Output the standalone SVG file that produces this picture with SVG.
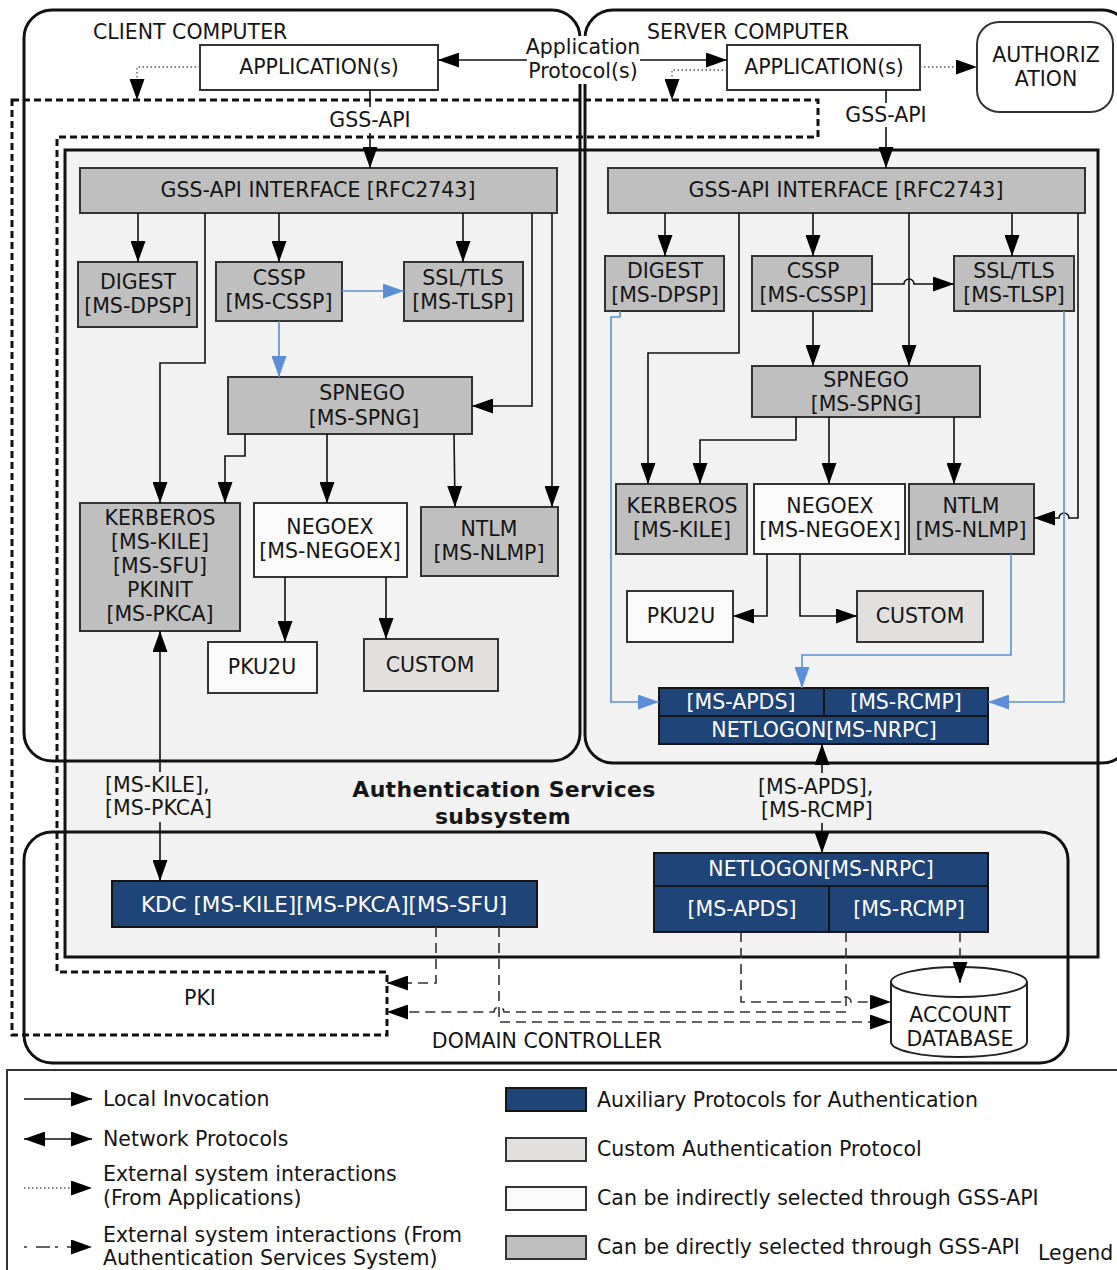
<svg xmlns="http://www.w3.org/2000/svg" width="1117" height="1270" viewBox="0 0 1117 1270">
<style>
text{font-family:"DejaVu Sans",Verdana,sans-serif;font-size:20.5px;fill:#151515;dominant-baseline:central}
.c{text-anchor:middle}
.w{fill:#fff}
.b{font-weight:bold;font-size:22px;letter-spacing:0.3px}
.frame{fill:none;stroke:#111;stroke-width:3}
.g{fill:#bfbfbf;stroke:#333;stroke-width:2}
.wh{fill:#fff;stroke:#333;stroke-width:2}
.ind{fill:#fafafa;stroke:#333;stroke-width:2}
.cu{fill:#e2dfdf;stroke:#333;stroke-width:2}
.nv{fill:#1f4478;stroke:#151515;stroke-width:2}
.ln{fill:none;stroke:#111;stroke-width:1.6}
.bl{fill:none;stroke:#5a8fd8;stroke-width:1.6}
.ds{fill:none;stroke:#333;stroke-width:1.6;stroke-dasharray:10,6}
.dt{fill:none;stroke:#555;stroke-width:1.3;stroke-dasharray:1.5,2.5}
.pki{fill:none;stroke:#111;stroke-width:3;stroke-dasharray:7,4}
</style>
<defs>
<marker id="a" markerWidth="21" markerHeight="15" refX="21" refY="7.5" orient="auto-start-reverse" markerUnits="userSpaceOnUse"><path d="M0,0 L21,7.5 L0,15 z" fill="#000"/></marker>
<marker id="ab" markerWidth="21" markerHeight="15" refX="21" refY="7.5" orient="auto-start-reverse" markerUnits="userSpaceOnUse"><path d="M0,0 L21,7.5 L0,15 z" fill="#5a8fd8"/></marker>
</defs>
<rect width="1117" height="1270" fill="#fff"/>

<g id="auth-subsystem">
<rect x="65" y="150" width="1033" height="807" fill="#f2f2f2" stroke="#111" stroke-width="3"/>
<text class="c b" x="504" y="789">Authentication Services</text>
<text class="c b" x="503" y="816">subsystem</text>
</g>
<g id="client-computer">
<rect class="frame" x="24" y="10" width="556" height="751" rx="28"/>
<text x="93" y="32">CLIENT COMPUTER</text>
</g>
<g id="server-computer">
<rect class="frame" x="585" y="10" width="545" height="753" rx="28"/>
<text x="647" y="32">SERVER COMPUTER</text>
</g>
<g id="domain-controller">
<rect class="frame" x="24" y="832" width="1044" height="231" rx="28"/>
<text class="c" x="547" y="1041">DOMAIN CONTROLLER</text>
</g>
<g id="pki">
<path class="pki" d="M12,100 H818 V137 H57 V972 H387 V1035 H12 Z"/>
<text class="c" x="200" y="998">PKI</text>
</g>

<g id="client-app"><rect class="wh" x="200" y="45" width="238" height="45"/><text class="c" x="319" y="67">APPLICATION(s)</text></g>
<g id="gss-client"><rect class="g" x="80" y="168" width="477" height="45"/><text class="c" x="318" y="190">GSS-API INTERFACE [RFC2743]</text></g>
<g id="digest-client"><rect class="g" x="78" y="262" width="119" height="65"/><text class="c" x="138" y="282">DIGEST</text><text class="c" x="138" y="306">[MS-DPSP]</text></g>
<g id="cssp-client"><rect class="g" x="216" y="262" width="126" height="59"/><text class="c" x="279" y="278">CSSP</text><text class="c" x="279" y="302">[MS-CSSP]</text></g>
<g id="ssl-client"><rect class="g" x="404" y="262" width="119" height="59"/><text class="c" x="463" y="278">SSL/TLS</text><text class="c" x="463" y="302">[MS-TLSP]</text></g>
<g id="spnego-client"><rect class="g" x="228" y="377" width="244" height="57"/><text class="c" x="362" y="393">SPNEGO</text><text class="c" x="364" y="418">[MS-SPNG]</text></g>
<g id="kerberos-client"><rect class="g" x="80" y="503" width="160" height="128"/>
<text class="c" x="160" y="518">KERBEROS</text><text class="c" x="160" y="542">[MS-KILE]</text><text class="c" x="160" y="566">[MS-SFU]</text><text class="c" x="160" y="590">PKINIT</text><text class="c" x="160" y="614">[MS-PKCA]</text></g>
<g id="negoex-client"><rect class="ind" x="254" y="503" width="153" height="74"/><text class="c" x="330" y="527">NEGOEX</text><text class="c" x="330" y="551">[MS-NEGOEX]</text></g>
<g id="ntlm-client"><rect class="g" x="421" y="507" width="137" height="69"/><text class="c" x="489" y="529">NTLM</text><text class="c" x="489" y="553">[MS-NLMP]</text></g>
<g id="pku2u-client"><rect class="ind" x="208" y="642" width="109" height="51"/><text class="c" x="262" y="667">PKU2U</text></g>
<g id="custom-client"><rect class="cu" x="364" y="639" width="134" height="52"/><text class="c" x="430" y="665">CUSTOM</text></g>

<g id="server-app"><rect class="wh" x="727" y="45" width="193" height="45"/><text class="c" x="824" y="67">APPLICATION(s)</text></g>
<g id="authorization"><rect class="wh" x="977" y="22" width="136" height="90" rx="22"/><text class="c" x="1046" y="55">AUTHORIZ</text><text class="c" x="1046" y="79">ATION</text></g>
<g id="gss-server"><rect class="g" x="608" y="168" width="477" height="45"/><text class="c" x="846" y="190">GSS-API INTERFACE [RFC2743]</text></g>
<g id="digest-server"><rect class="g" x="605" y="256" width="119" height="55"/><text class="c" x="665" y="271">DIGEST</text><text class="c" x="665" y="295">[MS-DPSP]</text></g>
<g id="cssp-server"><rect class="g" x="752" y="256" width="120" height="55"/><text class="c" x="813" y="271">CSSP</text><text class="c" x="813" y="295">[MS-CSSP]</text></g>
<g id="ssl-server"><rect class="g" x="954" y="256" width="120" height="55"/><text class="c" x="1014" y="271">SSL/TLS</text><text class="c" x="1014" y="295">[MS-TLSP]</text></g>
<g id="spnego-server"><rect class="g" x="752" y="366" width="228" height="51"/><text class="c" x="866" y="380">SPNEGO</text><text class="c" x="866" y="404">[MS-SPNG]</text></g>
<g id="kerberos-server"><rect class="g" x="616" y="484" width="131" height="70"/><text class="c" x="682" y="506">KERBEROS</text><text class="c" x="682" y="530">[MS-KILE]</text></g>
<g id="negoex-server"><rect class="ind" x="754" y="484" width="151" height="70"/><text class="c" x="830" y="506">NEGOEX</text><text class="c" x="830" y="530">[MS-NEGOEX]</text></g>
<g id="ntlm-server"><rect class="g" x="909" y="484" width="125" height="70"/><text class="c" x="971" y="506">NTLM</text><text class="c" x="971" y="530">[MS-NLMP]</text></g>
<g id="pku2u-server"><rect class="ind" x="627" y="591" width="106" height="51"/><text class="c" x="681" y="616">PKU2U</text></g>
<g id="custom-server"><rect class="cu" x="857" y="591" width="126" height="51"/><text class="c" x="920" y="616">CUSTOM</text></g>
<g id="aux-server">
<rect class="nv" x="659" y="688" width="165" height="28"/><rect class="nv" x="824" y="688" width="164" height="28"/><rect class="nv" x="659" y="716" width="329" height="28"/>
<text class="c w" x="741" y="702">[MS-APDS]</text><text class="c w" x="906" y="702">[MS-RCMP]</text><text class="c w" x="824" y="730">NETLOGON[MS-NRPC]</text>
</g>

<g id="kdc"><rect class="nv" x="112" y="881" width="425" height="46"/><text class="c w" x="324" y="904" style="font-size:21.5px">KDC [MS-KILE][MS-PKCA][MS-SFU]</text></g>
<g id="aux-dc">
<rect class="nv" x="654" y="853" width="334" height="33"/><rect class="nv" x="654" y="886" width="175" height="46"/><rect class="nv" x="829" y="886" width="159" height="46"/>
<text class="c w" x="821" y="869">NETLOGON[MS-NRPC]</text><text class="c w" x="742" y="909">[MS-APDS]</text><text class="c w" x="909" y="909">[MS-RCMP]</text>
</g>
<g id="account-database">
<path d="M891,982 V1042 A68,15 0 0 0 1027,1042 V982" fill="#fff" stroke="#222" stroke-width="2"/>
<ellipse cx="959" cy="982" rx="68" ry="15" fill="#fff" stroke="#222" stroke-width="2"/>
<text class="c" x="960" y="1015">ACCOUNT</text><text class="c" x="960" y="1039">DATABASE</text>
</g>

<g id="connectors">
<rect x="526" y="36" width="114" height="48" fill="#fff"/>
<text class="c" x="583" y="47">Application</text>
<text class="c" x="583" y="71">Protocol(s)</text>
<path class="ln" d="M527,60 H438" marker-end="url(#a)"/>
<path class="ln" d="M640,60 H727" marker-end="url(#a)"/>
<path class="dt" d="M200,67 H137 V100" marker-end="url(#a)"/>
<path class="dt" d="M727,70 H672 V100" marker-end="url(#a)"/>
<path class="dt" d="M920,67 H977" marker-end="url(#a)"/>
<path class="ln" d="M370,90 V107"/>
<path class="ln" d="M370,133 V168" marker-end="url(#a)"/>
<text class="c" x="370" y="120">GSS-API</text>
<path class="ln" d="M886,90 V103"/>
<path class="ln" d="M886,127 V168" marker-end="url(#a)"/>
<text class="c" x="886" y="115">GSS-API</text>

<path class="ln" d="M138,213 V262" marker-end="url(#a)"/>
<path class="ln" d="M279,213 V262" marker-end="url(#a)"/>
<path class="ln" d="M463,213 V262" marker-end="url(#a)"/>
<path class="ln" d="M205,213 V363 H160 V503" marker-end="url(#a)"/>
<path class="ln" d="M532,213 V406 H472" marker-end="url(#a)"/>
<path class="ln" d="M552,213 V507" marker-end="url(#a)"/>
<path class="bl" d="M342,291 H404" marker-end="url(#ab)"/>
<path class="bl" d="M279,321 V377" marker-end="url(#ab)"/>
<path class="ln" d="M245,434 V456 H225 V503" marker-end="url(#a)"/>
<path class="ln" d="M327,434 V503" marker-end="url(#a)"/>
<path class="ln" d="M454,434 L455,507" marker-end="url(#a)"/>
<path class="ln" d="M285,577 V642" marker-end="url(#a)"/>
<path class="ln" d="M386,577 V639" marker-end="url(#a)"/>
<path class="ln" d="M160,631 V772" marker-start="url(#a)"/>
<path class="ln" d="M160,822 V881" marker-end="url(#a)"/>
<text x="105" y="785">[MS-KILE],</text>
<text x="105" y="808">[MS-PKCA]</text>

<path class="ln" d="M665,213 V256" marker-end="url(#a)"/>
<path class="ln" d="M813,213 V256" marker-end="url(#a)"/>
<path class="ln" d="M1012,213 V256" marker-end="url(#a)"/>
<path class="ln" d="M739,213 V353 H648 V484" marker-end="url(#a)"/>
<path class="ln" d="M909,213 V366" marker-end="url(#a)"/>
<path class="ln" d="M1078,213 V518 H1069 A5,5 0 0 0 1059,518 H1034" marker-end="url(#a)"/>
<path class="ln" d="M872,284 H904 A5,5 0 0 1 914,284 H954" marker-end="url(#a)"/>
<path class="ln" d="M813,311 V366" marker-end="url(#a)"/>
<path class="ln" d="M796,417 V440 H700 V484" marker-end="url(#a)"/>
<path class="ln" d="M829,417 V484" marker-end="url(#a)"/>
<path class="ln" d="M954,417 V484" marker-end="url(#a)"/>
<path class="ln" d="M767,554 V616 H733" marker-end="url(#a)"/>
<path class="ln" d="M800,554 V616 H857" marker-end="url(#a)"/>
<path class="bl" d="M620,311 V317 H611 V702 H659" marker-end="url(#ab)"/>
<path class="bl" d="M1011,554 V655 H802 V688" marker-end="url(#ab)"/>
<path class="bl" d="M1064,311 V702 H988" marker-end="url(#ab)"/>
<path class="ln" d="M822,744 V773" marker-start="url(#a)"/>
<path class="ln" d="M822,823 V853" marker-end="url(#a)"/>
<text x="758" y="787">[MS-APDS],</text>
<text x="761" y="810">[MS-RCMP]</text>

<path class="ds" d="M436,927 V983 H387" marker-end="url(#a)"/>
<path class="ds" d="M499,927 V1022 H891" marker-end="url(#a)"/>
<path class="ds" d="M741,932 V1002 H841 A5,5 0 0 1 851,1002 H891" marker-end="url(#a)"/>
<path class="ds" d="M846,932 V1012 H504 A5,5 0 0 0 494,1012 H387" marker-end="url(#a)"/>
<path class="ds" d="M960,932 V983" marker-end="url(#a)"/>
</g>

<g id="legend">
<rect x="7" y="1070" width="1130" height="220" fill="#fff" stroke="#333" stroke-width="2"/>
<path class="ln" d="M24,1099 H92" marker-end="url(#a)"/>
<text x="103" y="1099">Local Invocation</text>
<path class="ln" d="M24,1139 H92" marker-start="url(#a)" marker-end="url(#a)"/>
<text x="103" y="1139">Network Protocols</text>
<path class="dt" d="M24,1188 H92" marker-end="url(#a)"/>
<text x="103" y="1174">External system interactions</text>
<text x="103" y="1198">(From Applications)</text>
<path class="ds" d="M24,1247 H92" marker-end="url(#a)" style="stroke-dasharray:3,9,14,5"/>
<text x="103" y="1235">External system interactions (From</text>
<text x="103" y="1258">Authentication Services System)</text>
<rect class="nv" x="506" y="1088" width="80" height="23"/>
<text x="597" y="1100">Auxiliary Protocols for Authentication</text>
<rect class="cu" x="506" y="1138" width="80" height="23"/>
<text x="597" y="1149">Custom Authentication Protocol</text>
<rect class="ind" x="506" y="1187" width="80" height="23"/>
<text x="597" y="1198">Can be indirectly selected through GSS-API</text>
<rect class="g" x="506" y="1236" width="80" height="23"/>
<text x="597" y="1247">Can be directly selected through GSS-API</text>
<text x="1038" y="1253">Legend</text>
</g>
</svg>
